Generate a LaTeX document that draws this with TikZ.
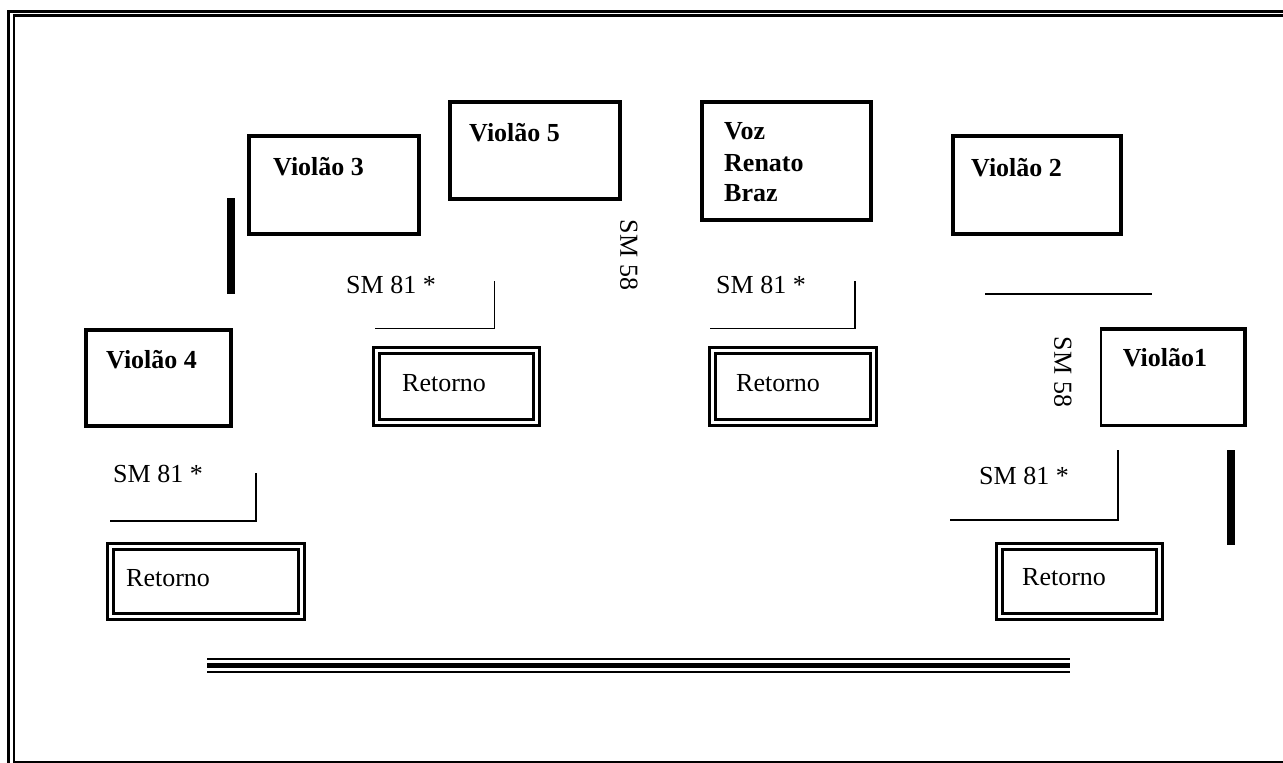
\documentclass[tikz,border=0pt]{standalone}
\usepackage{fontspec}
\setmainfont{Liberation Serif}
\begin{document}
\begin{tikzpicture}[x=1pt,y=-1pt,
  box/.style={draw, line width=3.5pt},
  retout/.style={draw, line width=2.6pt},
  retin/.style={draw, line width=2.8pt},
  lbl/.style={font=\fontsize{26}{31}\selectfont, anchor=base west, inner sep=0pt},
  blbl/.style={font=\fontsize{26}{31}\selectfont\bfseries, anchor=base west, inner sep=0pt, align=left},
  rlbl/.style={font=\fontsize{26}{31}\selectfont, rotate=-90, inner sep=0pt},
  micline/.style={line width=1.6pt},
  bar/.style={line width=8pt},
  frame/.style={line width=2.7pt}
]
\useasboundingbox (0,0) rectangle (1283,763);
% outer frame
\draw[frame] (8.7,763) -- (8.7,11.2) -- (1283,11.2);
\draw[frame] (14,763) -- (14,15.8) -- (1283,15.8);
\draw[line width=2pt] (14,761.5) -- (1283,761.5);

% instrument boxes
\draw[box] (249,136) rectangle (419,234);
\draw[box] (450,102) rectangle (620,199);
\draw[box] (702,102) rectangle (871,220);
\draw[box] (953,136) rectangle (1121,234);
\draw[box] (86,330) rectangle (231,426);
\draw[box] (1100,329) -- (1245,329) -- (1245,425.5) -- (1100,425.5);
\draw[line width=1.6pt] (1101,329) -- (1101,425.5);

\node[blbl] (t3) at (273,175) {Violão 3};
\node[blbl] (t5) at (469,141) {Violão 5};
\node[blbl] (tvoz) at (724,139.5) {Voz};
\node[blbl] (tren) at (724,171.5) {Renato};
\node[blbl] (tbraz) at (724,201) {Braz};
\node[blbl] (t2) at (971,176) {Violão 2};
\node[blbl] (t4) at (106,368) {Violão 4};
\node[blbl] (t1) at (1122.7,366.7) {Violão1};

% thick bars
\draw[bar] (231,198) -- (231,294);
\draw[bar] (1230.5,450) -- (1230.5,545);

% mic lines
\coordinate (m1a) at (375,328.5); \coordinate (m1b) at (494.5,328.5); \coordinate (m1c) at (494.5,281);
\draw[micline] (m1a) -- (m1b) -- (m1c);
\coordinate (m2a) at (710,328.5); \coordinate (m2b) at (855,328.5); \coordinate (m2c) at (855,281);
\draw[micline] (m2a) -- (m2b) -- (m2c);
\coordinate (m3a) at (110,521); \coordinate (m3b) at (256,521); \coordinate (m3c) at (256,473);
\draw[micline] (m3a) -- (m3b) -- (m3c);
\coordinate (m4a) at (950,520); \coordinate (m4b) at (1118,520); \coordinate (m4c) at (1118,450);
\draw[micline] (m4a) -- (m4b) -- (m4c);
\coordinate (m5a) at (985,294); \coordinate (m5b) at (1152,294);
\draw[micline] (m5a) -- (m5b);

\node[lbl] (s1) at (346,293) {SM 81 *};
\node[lbl] (s2) at (716,293) {SM 81 *};
\node[lbl] (s3) at (113,482) {SM 81 *};
\node[lbl] (s4) at (979,484) {SM 81 *};
\node[rlbl] (sm58a) at (629,255) {SM 58};
\node[rlbl] (sm58b) at (1063,372) {SM 58};

% retorno boxes
\draw[retout] (373.3,347.3) rectangle (539.7,425.7);
\draw[retin] (379.5,353.5) rectangle (533.5,419.5);
\node[lbl] (r1) at (402,391) {Retorno};
\draw[retout] (709.3,347.3) rectangle (876.7,425.7);
\draw[retin] (715.5,353.5) rectangle (870.5,419.5);
\node[lbl] (r2) at (736,391) {Retorno};
\draw[retout] (107.3,543.3) rectangle (304.7,619.7);
\draw[retin] (113.5,549.5) rectangle (298.5,613.5);
\node[lbl] (r3) at (126,586) {Retorno};
\draw[retout] (996.3,543.3) rectangle (1162.7,619.7);
\draw[retin] (1002.5,549.5) rectangle (1156.5,613.5);
\node[lbl] (r4) at (1022,585) {Retorno};

% stage front triple line
\draw[line width=2pt] (207,659) -- (1070,659);
\draw[line width=5pt] (207,665.8) -- (1070,665.8);
\draw[line width=2pt] (207,672.3) -- (1070,672.3);
\end{tikzpicture}
\end{document}
